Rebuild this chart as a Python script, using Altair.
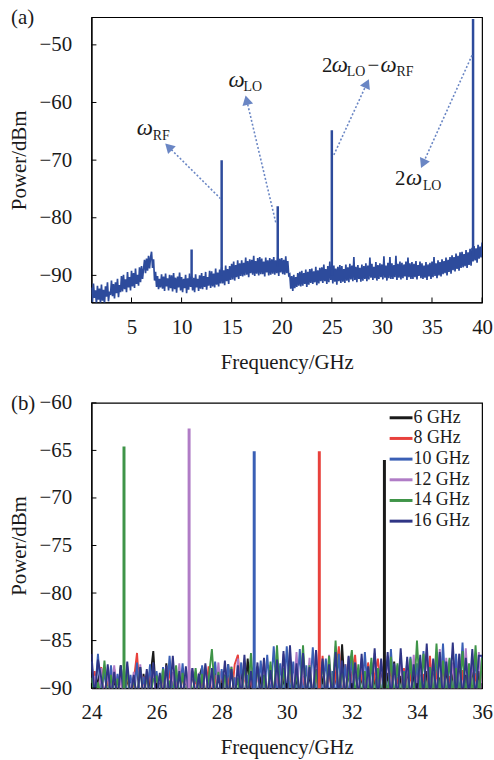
import math
import pandas as pd
import altair as alt

FONT = "Liberation Serif"
TXT = "#1a1a1a"
BLUE = "#2d4b9c"
ARROW = "#6a86c4"
W, H = 393, 287

# ---------------- Panel (a) data (0.1 GHz grid from 1.0 GHz) ----------------
power_a = [
    -92.1, -94.6, -91.4, -93.9, -92.6, -95.0, -91.8, -94.2, -92.3, -94.8,
    -91.6, -94.4, -92.5, -95.0, -91.9, -93.7, -91.2, -94.5, -92.8, -93.4,
    -90.9, -93.6, -91.5, -94.0, -91.2, -93.1, -90.6, -93.8, -91.7, -92.9,
    -90.1, -92.8, -89.9, -92.4, -90.7, -92.9, -89.4, -92.1, -90.3, -92.6,
    -89.2, -91.9, -89.6, -92.2, -88.8, -91.5, -89.9, -91.8, -88.6, -91.2,
    -88.4, -90.6, -88.9, -87.3, -89.6, -87.1, -89.2, -86.6, -88.8, -86.9,
    -85.9, -88.7, -87.2, -90.9, -89.4, -92.0, -90.1, -92.4, -90.6, -92.1,
    -89.8, -92.3, -90.2, -92.7, -89.7, -91.9, -90.5, -92.6, -89.9, -92.2,
    -90.0, -92.8, -89.6, -92.4, -90.4, -93.0, -90.2, -92.1, -89.5, -92.6,
    -90.3, -92.9, -90.6, -92.2, -89.9, -93.1, -90.5, -92.5, -89.7, -92.0,
    -90.2, -92.6, -90.4, -92.9, -89.8, -92.1, -90.6, -92.7, -90.0, -92.3,
    -89.6, -92.4, -90.1, -92.0, -89.4, -92.5, -90.3, -91.8, -89.2, -92.2,
    -89.3, -91.9, -89.7, -92.1, -88.8, -91.6, -89.5, -91.9, -89.0, -91.4,
    -88.6, -91.4, -89.1, -91.7, -88.3, -91.0, -88.9, -91.5, -88.4, -90.8,
    -88.0, -90.7, -87.6, -90.9, -88.2, -90.3, -87.4, -90.6, -87.9, -90.1,
    -87.4, -90.2, -87.8, -90.0, -86.9, -89.9, -87.5, -90.3, -87.2, -89.6,
    -87.3, -89.9, -86.6, -90.1, -87.5, -89.7, -87.0, -90.0, -86.8, -89.8,
    -87.1, -89.8, -87.6, -90.2, -86.9, -89.5, -87.4, -90.0, -87.0, -89.9,
    -87.2, -89.7, -86.8, -89.9, -87.4, -89.6, -86.9, -90.1, -87.1, -89.5,
    -87.0, -89.8, -87.3, -89.9, -86.7, -89.6, -87.5, -90.0, -89.8, -92.3,
    -90.1, -92.7, -89.9, -92.2, -90.3, -92.0, -89.6, -91.8, -89.4, -91.9,
    -89.2, -91.8, -89.6, -91.5, -89.0, -92.0, -89.4, -91.6, -88.9, -91.3,
    -88.8, -91.5, -89.3, -91.2, -88.5, -91.7, -89.1, -91.4, -88.7, -91.0,
    -88.6, -91.3, -88.1, -91.0, -88.9, -91.5, -88.4, -91.2, -87.6, -90.8,
    -88.7, -91.4, -88.3, -91.1, -88.8, -91.6, -88.5, -91.0, -88.2, -91.3,
    -88.4, -91.1, -88.9, -91.3, -88.1, -90.9, -88.6, -91.2, -88.0, -90.7,
    -88.3, -91.0, -86.8, -90.8, -88.5, -91.2, -88.2, -90.6, -88.7, -91.1,
    -88.1, -90.9, -88.4, -90.6, -87.9, -91.0, -88.3, -90.7, -86.9, -90.4,
    -88.0, -90.8, -88.5, -90.5, -87.7, -90.9, -88.2, -90.6, -87.9, -90.3,
    -88.1, -90.7, -86.7, -90.4, -88.3, -90.9, -87.8, -90.5, -86.8, -90.6,
    -87.9, -90.6, -88.2, -90.3, -86.6, -90.8, -88.0, -90.4, -87.6, -90.7,
    -87.8, -90.5, -88.1, -90.2, -87.6, -90.8, -86.9, -90.3, -87.9, -90.6,
    -87.7, -90.6, -88.0, -90.3, -87.5, -90.7, -88.2, -90.1, -87.6, -90.5,
    -87.9, -90.6, -88.3, -90.4, -87.7, -90.8, -88.1, -90.2, -87.8, -90.6,
    -87.6, -90.3, -86.8, -90.1, -87.9, -90.5, -87.4, -90.0, -87.7, -90.2,
    -87.2, -89.8, -87.5, -89.6, -86.9, -90.0, -87.3, -89.4, -86.8, -89.7,
    -86.5, -89.1, -86.8, -89.3, -86.2, -88.9, -86.6, -89.2, -86.0, -88.7,
    -85.9, -88.6, -86.3, -88.4, -85.6, -88.7, -86.0, -88.2, -85.4, -88.3,
    -85.2, -87.6, -84.9, -87.4, -85.3, -87.8, -84.7, -87.1, -85.0, -86.9,
    -84.3,
]
freq_a = [round(1.0 + 0.1 * i, 1) for i in range(len(power_a))]

peak_a_freq = [11.0, 14.0, 19.6, 25.0, 39.1]
peak_a_power = [-85.5, -70.0, -78.0, -64.8, -45.5]
peak_a_base = [-90.5, -90.0, -88.5, -90.0, -86.5]

# annotation arrows (data coordinates: start near peak, end at arrowhead)
arrow_x1 = [13.9, 19.4, 25.2, 39.0]
arrow_y1 = [-76.7, -80.8, -69.1, -51.8]
arrow_x2 = [8.7, 16.5, 28.5, 34.1]
arrow_y2 = [-67.7, -59.6, -56.7, -70.6]

# annotation text pieces: w = italic omega, s = subscript, n = normal
ann_text = ["ω", "RF", "ω", "LO", "2", "ω", "LO", "−", "ω", "RF", "2", "ω", "LO"]
ann_x = [5.53, 7.12, 14.68, 16.17, 24.03, 25.00, 26.49, 28.55, 29.85, 31.45, 31.30, 32.40, 34.09]
ann_y = [-65.66, -66.53, -57.37, -58.01, -54.73, -54.73, -55.47, -54.73, -54.73, -55.47, -74.30, -74.30, -75.16]
ann_kind = ["w", "s", "w", "s", "n", "w", "s", "n", "w", "s", "n", "w", "s"]

x_ticks_a = [5, 10, 15, 20, 25, 30, 35, 40]
y_ticks_a = [-90, -80, -70, -60, -50]
xdom_a = [1.0, 40.0]
ydom_a = [-94.7, -45.2]

# ---------------- Panel (b) data (0.1 GHz grid from 24 GHz) ----------------
series_names = ["6 GHz", "8 GHz", "10 GHz", "12 GHz", "14 GHz", "16 GHz"]
series_colors = ["#1a1a1a", "#e8413c", "#3a5fb5", "#b07cc6", "#3f9448", "#2f3585"]

noise_6 = [
    -88.6, -91.5, -89.2, -87.9, -91.2, -88.4, -91.6, -88.9, -90.9, -87.6,
    -91.3, -88.8, -91.0, -89.1, -87.8, -91.4, -88.5, -91.2, -89.0, -86.1,
    -91.5, -88.7, -91.1, -87.4, -90.8, -89.2, -91.3, -88.3, -91.0, -88.9,
    -91.4, -88.2, -91.2, -88.9, -87.8, -91.5, -88.6, -91.0, -88.1, -91.3,
    -88.8, -91.1, -87.5, -91.4, -88.9, -91.2, -88.0, -91.5, -86.9, -91.0,
    -88.4, -91.3, -89.0, -87.7, -91.2, -88.5, -91.4, -87.9, -91.1, -88.8,
    -91.5, -87.6, -91.0, -88.9, -91.3, -87.8, -91.1, -88.4, -91.4, -88.0,
    -91.2, -88.7, -91.5, -87.3, -91.0, -88.6, -91.3, -85.4, -91.2, -88.1,
    -91.4, -87.9, -91.0, -88.6, -91.3, -87.5, -91.1, -88.8, -91.5, -87.7,
    -91.0, -88.4, -91.3, -87.2, -91.1, -88.7, -91.4, -87.9, -91.2, -88.5,
    -91.0, -87.6, -91.3, -88.2, -91.5, -87.4, -91.1, -88.9, -91.2, -87.8,
    -91.4, -88.3, -91.0, -87.1, -91.3, -88.6, -91.2, -87.7, -91.5, -88.2,
    -91.0,
]
noise_8 = [
    -91.3, -88.2, -91.5, -87.8, -91.0, -89.1, -91.4, -88.0, -91.2, -88.7,
    -91.0, -88.4, -91.3, -89.2, -86.3, -91.5, -88.8, -91.1, -88.1, -91.4,
    -88.9, -91.2, -88.3, -91.0, -87.9, -91.4, -89.0, -91.3, -88.5, -91.1,
    -88.0, -91.5, -88.7, -91.2, -89.1, -91.0, -87.7, -91.4, -88.6, -91.3,
    -88.2, -91.1, -88.9, -91.5, -87.5, -86.5, -91.2, -88.4, -91.0, -88.8,
    -91.3, -88.1, -91.1, -88.7, -91.4, -87.6, -91.0, -88.3, -91.2, -87.9,
    -91.4, -88.5, -91.0, -87.8, -91.3, -88.9, -91.1, -87.4, -91.5, -88.2,
    -91.2, -86.6, -91.4, -88.0, -91.1, -88.7, -85.6, -91.3, -87.5, -91.0,
    -88.4, -86.5, -91.2, -88.1, -91.4, -87.3, -91.0, -88.6, -86.9, -91.3,
    -88.2, -91.1, -87.6, -91.4, -88.8, -91.0, -87.9, -91.2, -88.3, -91.5,
    -87.7, -91.0, -88.5, -91.3, -86.6, -91.1, -88.0, -91.4, -87.4, -91.2,
    -88.7, -91.0, -87.3, -91.5, -88.1, -91.2, -87.8, -91.0, -88.4, -91.3,
    -88.0,
]
noise_10 = [
    -87.2, -91.0, -86.4, -91.4, -88.1, -91.2, -87.6, -91.1, -88.5, -91.3,
    -87.9, -91.0, -88.6, -91.4, -87.3, -91.2, -88.8, -91.0, -87.5, -91.5,
    -88.2, -91.1, -87.8, -91.3, -86.6, -91.0, -88.4, -91.2, -87.4, -91.4,
    -87.9, -91.1, -88.3, -91.4, -87.6, -91.0, -88.7, -91.3, -87.2, -91.2,
    -88.0, -91.1, -87.5, -91.4, -88.9, -91.0, -87.3, -91.2, -88.6, -91.5,
    -87.8, -91.1, -87.1, -91.3, -86.5, -91.0, -85.6, -91.2, -87.4, -91.4,
    -85.6, -91.0, -87.2, -91.3, -85.9, -91.1, -87.6, -91.4, -85.7, -91.2,
    -87.8, -91.0, -86.9, -91.3, -88.2, -91.1, -86.4, -91.4, -87.5, -91.2,
    -86.8, -91.0, -88.1, -91.3, -86.2, -91.1, -87.3, -91.4, -88.0, -91.2,
    -87.0, -91.1, -85.9, -91.3, -87.6, -91.0, -88.2, -91.4, -86.7, -91.2,
    -87.4, -91.0, -86.1, -91.3, -87.9, -91.2, -86.6, -91.1, -85.3, -91.4,
    -87.0, -91.2, -86.4, -91.0, -85.2, -91.3, -87.7, -91.1, -86.9, -91.4,
    -86.6,
]
noise_12 = [
    -91.1, -88.7, -91.4, -87.9, -91.2, -88.4, -91.0, -87.6, -91.3, -88.9,
    -91.2, -87.7, -91.0, -88.3, -91.4, -87.5, -91.1, -88.8, -91.3, -88.0,
    -91.0, -88.6, -91.3, -87.8, -91.2, -88.3, -91.4, -87.4, -91.1, -88.7,
    -91.3, -87.9, -91.0, -88.4, -91.2, -87.6, -91.4, -88.2, -91.1, -87.3,
    -91.2, -88.5, -91.0, -87.7, -91.3, -86.9, -91.1, -88.1, -91.4, -87.5,
    -91.0, -88.3, -91.2, -87.1, -91.4, -88.6, -91.1, -87.8, -91.3, -86.4,
    -91.2, -87.0, -91.0, -86.2, -91.4, -87.6, -91.1, -86.8, -91.3, -86.0,
    -91.1, -87.4, -91.3, -86.5, -91.0, -85.6, -91.2, -87.7, -91.4, -86.7,
    -91.0, -87.3, -91.3, -86.9, -91.2, -87.8, -91.1, -86.3, -91.4, -87.1,
    -91.2, -86.6, -91.0, -87.5, -91.3, -86.9, -91.1, -87.2, -91.4, -86.5,
    -91.0, -87.4, -91.2, -86.2, -91.3, -87.0, -91.1, -85.9, -91.4, -86.8,
    -91.0, -87.3, -91.2, -86.4, -91.1, -85.8, -91.3, -87.0, -91.2, -86.2,
    -91.0,
]
noise_14 = [
    -88.9, -91.2, -89.4, -91.0, -87.1, -91.3, -88.6, -91.1, -89.0, -91.4,
    -91.0, -88.2, -91.3, -88.9, -91.1, -87.8, -91.4, -88.5, -91.0, -89.1,
    -88.8, -91.2, -88.0, -91.4, -89.2, -91.0, -87.6, -91.3, -88.4, -91.1,
    -88.7, -91.0, -87.9, -91.2, -88.5, -91.4, -89.0, -85.9, -91.1, -88.3,
    -91.3, -88.6, -91.0, -87.8, -91.2, -88.9, -91.4, -87.4, -91.1, -86.3,
    -91.2, -87.7, -91.0, -88.6, -91.4, -87.2, -91.1, -85.5, -91.3, -87.9,
    -91.1, -86.9, -91.4, -88.3, -91.0, -85.5, -91.2, -87.6, -91.3, -88.1,
    -91.0, -87.2, -91.4, -86.6, -91.1, -85.0, -91.3, -87.8, -91.2, -88.4,
    -86.0, -91.1, -87.5, -91.3, -88.2, -91.0, -86.8, -91.4, -87.9, -91.2,
    -88.1, -91.0, -86.7, -91.3, -87.4, -91.2, -88.3, -91.1, -86.9, -91.4,
    -85.0, -91.0, -86.4, -91.2, -87.8, -91.3, -85.3, -91.1, -87.1, -91.4,
    -86.8, -91.0, -87.9, -91.3, -86.1, -91.2, -87.4, -91.0, -85.5, -91.3,
    -86.8,
]
noise_16 = [
    -86.4, -91.0, -87.0, -88.9, -91.3, -87.5, -91.1, -88.3, -91.4, -87.6,
    -91.2, -87.2, -91.0, -88.6, -91.3, -87.8, -91.1, -88.0, -91.4, -87.3,
    -91.0, -88.4, -91.2, -87.6, -91.3, -86.6, -91.1, -88.2, -91.4, -87.7,
    -91.0, -87.9, -91.2, -88.5, -91.3, -87.4, -91.1, -87.9, -91.4, -88.6,
    -91.0, -87.1, -91.2, -88.0, -91.3, -87.6, -91.1, -86.5, -91.4, -88.2,
    -91.0, -87.3, -91.2, -86.8, -91.3, -88.1, -91.1, -87.0, -91.4, -86.1,
    -91.0, -85.5, -91.2, -87.4, -91.3, -86.3, -91.1, -87.8, -91.4, -86.0,
    -91.0, -86.9, -91.2, -87.5, -91.3, -86.2, -91.1, -87.1, -91.4, -86.6,
    -91.0, -87.3, -91.2, -86.4, -91.3, -87.7, -91.1, -85.8, -91.4, -86.9,
    -91.0, -86.2, -91.2, -87.4, -91.3, -85.8, -91.1, -86.7, -91.4, -87.5,
    -91.0, -86.5, -91.2, -85.3, -91.3, -86.9, -91.1, -86.2, -91.4, -87.2,
    -91.0, -85.2, -91.2, -86.4, -91.3, -86.8, -91.1, -85.9, -91.4, -86.6,
    -86.6,
]
noise_b = [noise_6, noise_8, noise_10, noise_12, noise_14, noise_16]
freq_b = [round(24.0 + 0.1 * i, 1) for i in range(len(noise_6))]

peak_b_series = ["6 GHz", "8 GHz", "10 GHz", "12 GHz", "14 GHz"]
peak_b_freq = [33.0, 31.0, 29.0, 27.0, 25.0]
peak_b_power = [-66.0, -65.1, -65.1, -62.7, -64.6]
peak_b_base = [-91.0, -91.0, -91.0, -91.0, -91.0]

x_ticks_b = [24, 26, 28, 30, 32, 34, 36]
y_ticks_b = [-90, -85, -80, -75, -70, -65, -60]
xdom_b = [24.0, 36.0]
ydom_b = [-90.0, -60.0]

# legend layout (pixels inside panel b)
LEG_X0, LEG_X1, LEG_Y0, LEG_DY = 300, 323, 15.0, 20.8

# ---------------- build tables ----------------
df_a = pd.DataFrame({"f": freq_a, "p": power_a})
df_pa = pd.DataFrame({"f": peak_a_freq, "p": peak_a_power, "b": peak_a_base})
sx = W / (xdom_a[1] - xdom_a[0])
sy = H / (ydom_a[1] - ydom_a[0])
angles = []
for x1, y1, x2, y2 in zip(arrow_x1, arrow_y1, arrow_x2, arrow_y2):
    dxp = (x2 - x1) * sx
    dyp = -(y2 - y1) * sy
    angles.append((math.degrees(math.atan2(dxp, -dyp)) + 360) % 360)
df_arr = pd.DataFrame({"x1": arrow_x1, "y1": arrow_y1, "x2": arrow_x2, "y2": arrow_y2, "ang": angles})
df_ann = pd.DataFrame({"t": ann_text, "x": ann_x, "y": ann_y, "k": ann_kind})

rows = []
for name, vals in zip(series_names, noise_b):
    for f, p in zip(freq_b, vals):
        rows.append({"f": f, "p": p, "s": name})
df_b = pd.DataFrame(rows)
df_pb = pd.DataFrame({"f": peak_b_freq, "p": peak_b_power, "b": peak_b_base, "s": peak_b_series})
units_per_px = (ydom_b[1] - ydom_b[0]) / H
df_leg = pd.DataFrame({
    "s": series_names,
    "ly": [ydom_b[1] - (LEG_Y0 + i * LEG_DY) * units_per_px for i in range(len(series_names))],
})

xs_a = alt.Scale(domain=xdom_a, nice=False, zero=False)
ys_a = alt.Scale(domain=ydom_a, nice=False, zero=False)
xs_b = alt.Scale(domain=xdom_b, nice=False, zero=False)
ys_b = alt.Scale(domain=ydom_b, nice=False, zero=False)
cscale = alt.Scale(domain=series_names, range=series_colors)


def inward_ticks(xt, yt, xs, ys):
    tx = alt.Chart(pd.DataFrame({"f": xt})).mark_rule(color="black", strokeWidth=1).encode(
        x=alt.X("f:Q", scale=xs), y=alt.value(H), y2=alt.value(H - 5))
    ty = alt.Chart(pd.DataFrame({"p": yt})).mark_rule(color="black", strokeWidth=1).encode(
        y=alt.Y("p:Q", scale=ys), x=alt.value(0), x2=alt.value(5))
    return [tx, ty]


def panel_label(txt):
    return alt.Chart(pd.DataFrame({"t": [txt]})).mark_text(
        font=FONT, fontSize=21, align="left", baseline="middle", color=TXT
    ).encode(text="t:N", x=alt.value(-81), y=alt.value(1))


# ---------------- Panel (a) ----------------
line_a = alt.Chart(df_a).mark_line(color=BLUE, strokeWidth=1.7, clip=True).encode(
    x=alt.X("f:Q", scale=xs_a, axis=alt.Axis(values=x_ticks_a, title="Frequency/GHz")),
    y=alt.Y("p:Q", scale=ys_a, axis=alt.Axis(values=y_ticks_a, title="Power/dBm")),
)
peaks_a = alt.Chart(df_pa).mark_rule(color=BLUE, strokeWidth=2.5, clip=True).encode(
    x=alt.X("f:Q", scale=xs_a), y=alt.Y("p:Q", scale=ys_a), y2="b:Q")
arrows = alt.Chart(df_arr).mark_rule(color=ARROW, strokeWidth=1.6, strokeDash=[2, 2]).encode(
    x=alt.X("x1:Q", scale=xs_a), y=alt.Y("y1:Q", scale=ys_a), x2="x2:Q", y2="y2:Q")
heads = alt.Chart(df_arr).mark_point(shape="triangle-up", filled=True, color=ARROW, size=120, opacity=1).encode(
    x=alt.X("x2:Q", scale=xs_a), y=alt.Y("y2:Q", scale=ys_a), angle=alt.Angle("ang:Q", scale=None))
omega = alt.Chart(df_ann).transform_filter(alt.datum.k == "w").mark_text(
    font=FONT, fontStyle="italic", fontSize=23, align="left", baseline="alphabetic", color=TXT
).encode(x=alt.X("x:Q", scale=xs_a), y=alt.Y("y:Q", scale=ys_a), text="t:N")
subs = alt.Chart(df_ann).transform_filter(alt.datum.k == "s").mark_text(
    font=FONT, fontSize=14, align="left", baseline="alphabetic", color=TXT
).encode(x=alt.X("x:Q", scale=xs_a), y=alt.Y("y:Q", scale=ys_a), text="t:N")
norm = alt.Chart(df_ann).transform_filter(alt.datum.k == "n").mark_text(
    font=FONT, fontSize=21, align="left", baseline="alphabetic", color=TXT
).encode(x=alt.X("x:Q", scale=xs_a), y=alt.Y("y:Q", scale=ys_a), text="t:N")

top = alt.layer(
    line_a, peaks_a, arrows, heads, omega, subs, norm,
    *inward_ticks(x_ticks_a, y_ticks_a, xs_a, ys_a), panel_label("(a)")
).properties(width=W, height=H)

# ---------------- Panel (b) ----------------
line_b = alt.Chart(df_b).mark_line(strokeWidth=1.9, clip=True).encode(
    x=alt.X("f:Q", scale=xs_b, axis=alt.Axis(values=x_ticks_b, title="Frequency/GHz")),
    y=alt.Y("p:Q", scale=ys_b, axis=alt.Axis(values=y_ticks_b, title="Power/dBm")),
    color=alt.Color("s:N", scale=cscale, sort=series_names, legend=None),
    order=alt.Order("f:Q"),
)
peaks_b = alt.Chart(df_pb).mark_rule(strokeWidth=3, clip=True).encode(
    x=alt.X("f:Q", scale=xs_b), y=alt.Y("p:Q", scale=ys_b), y2="b:Q",
    color=alt.Color("s:N", scale=cscale, legend=None))
leg_sym = alt.Chart(df_leg).mark_rule(strokeWidth=3).encode(
    x=alt.value(LEG_X0), x2=alt.value(LEG_X1), y=alt.Y("ly:Q", scale=ys_b),
    color=alt.Color("s:N", scale=cscale, legend=None))
leg_txt = alt.Chart(df_leg).mark_text(
    font=FONT, fontSize=18, align="left", baseline="middle", color=TXT
).encode(x=alt.value(LEG_X1 + 1), y=alt.Y("ly:Q", scale=ys_b), text="s:N")

bottom = alt.layer(
    line_b, peaks_b, *inward_ticks(x_ticks_b, y_ticks_b, xs_b, ys_b),
    leg_sym, leg_txt, panel_label("(b)")
).properties(width=W, height=H)

chart = alt.vconcat(top, bottom, spacing=18).properties(
    padding={"left": 7, "top": 4, "right": 0, "bottom": 0}
).configure_axis(
    labelFont=FONT, titleFont=FONT, labelFontSize=21, titleFontSize=21,
    titleFontWeight="normal", labelColor=TXT, titleColor=TXT,
    ticks=False, tickSize=0, domainColor="black", domainWidth=1.2, grid=False,
    labelPadding=14, labelFlush=False,
).configure_axisX(titlePadding=14).configure_axisY(labelPadding=20, titlePadding=10).configure_view(
    stroke="black", strokeWidth=1.2
)

chart.save("out.html", embed_options={"renderer": "svg", "actions": False})
